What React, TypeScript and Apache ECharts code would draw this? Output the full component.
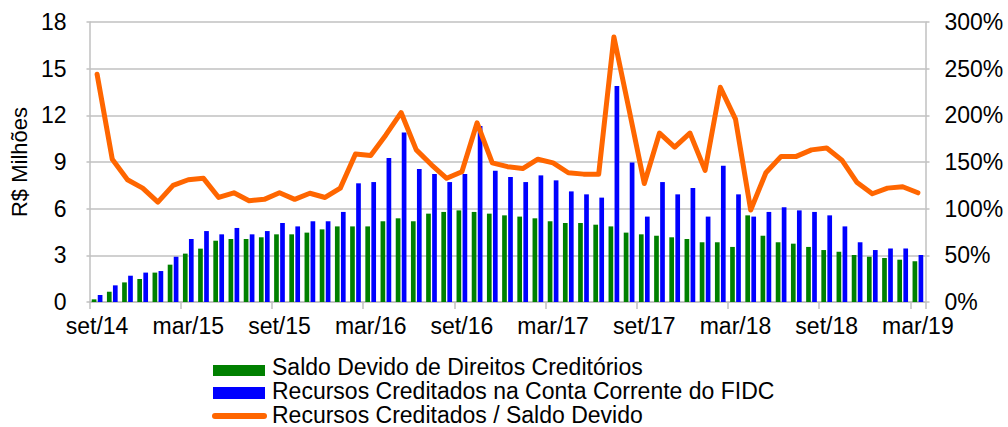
import React, { useEffect, useRef } from "react";
import * as echarts from "echarts";

const categories = [
  "set/14", "out/14", "nov/14", "dez/14", "jan/15", "fev/15", "mar/15", "abr/15", "mai/15", "jun/15", "jul/15", "ago/15",
  "set/15", "out/15", "nov/15", "dez/15", "jan/16", "fev/16", "mar/16", "abr/16", "mai/16", "jun/16", "jul/16", "ago/16",
  "set/16", "out/16", "nov/16", "dez/16", "jan/17", "fev/17", "mar/17", "abr/17", "mai/17", "jun/17", "jul/17", "ago/17",
  "set/17", "out/17", "nov/17", "dez/17", "jan/18", "fev/18", "mar/18", "abr/18", "mai/18", "jun/18", "jul/18", "ago/18",
  "set/18", "out/18", "nov/18", "dez/18", "jan/19", "fev/19", "mar/19",
];

const saldoDevido = [
  0.17, 0.66, 1.26, 1.48, 1.89, 2.4, 3.11, 3.43, 3.94, 4.05, 4.05, 4.16,
  4.35, 4.35, 4.46, 4.67, 4.86, 4.86, 4.86, 5.19, 5.38, 5.19, 5.68, 5.79,
  5.89, 5.79, 5.68, 5.57, 5.49, 5.38, 5.19, 5.08, 5.08, 4.97, 4.86, 4.46,
  4.35, 4.26, 4.16, 4.05, 3.84, 3.84, 3.54, 5.57, 4.26, 3.84, 3.75, 3.54,
  3.34, 3.23, 3.02, 2.91, 2.83, 2.72, 2.62,
];

const recursosCreditados = [
  0.45, 1.07, 1.69, 1.89, 1.99, 2.91, 4.05, 4.56, 4.35, 4.76, 4.35, 4.56,
  5.08, 4.86, 5.19, 5.19, 5.79, 7.63, 7.71, 9.26, 10.89, 8.55, 8.23, 7.71,
  8.23, 11.31, 8.44, 8.04, 7.71, 8.14, 7.82, 7.11, 6.92, 6.71, 13.89, 8.96,
  5.49, 7.71, 6.92, 7.33, 5.49, 8.76, 6.92, 5.49, 5.79, 6.09, 5.89, 5.79,
  5.57, 4.86, 3.84, 3.34, 3.44, 3.44, 3.02,
];

const razaoPct = [
  244, 153, 131, 122, 107, 125, 131, 132.5, 112, 117, 108.5, 110,
  117, 110, 116.5, 112, 122, 158.6, 157, 179, 203, 163, 147, 132.5,
  139.6, 192, 149, 145, 143, 153, 149, 138.5, 137, 137, 284, 206,
  127, 181, 166, 181, 141, 230, 196, 98.6, 138.5, 156, 156, 163,
  165, 152, 128, 116, 122, 123.5, 117,
];

const seriesNames = [
  "Saldo Devido de Direitos Creditórios",
  "Recursos Creditados na Conta Corrente do FIDC",
  "Recursos Creditados / Saldo Devido",
];

const seriesColors = ["#008000", "#0000FF", "#FF6600"];

const FONT = "'Liberation Sans', Arial, sans-serif";
const GRID_COLOR = "#C0C0C0";
const FS = 23;

export default function App() {
  const ref = useRef<HTMLDivElement>(null);

  useEffect(() => {
    if (!ref.current) return;
    const chart = echarts.init(ref.current, undefined, { renderer: "svg" });
    const legendText = (i: number, y: number) => ({
      type: "text",
      x: 272,
      y,
      style: {
        text: seriesNames[i],
        fill: "#000",
        font: `${FS}px ${FONT}`,
        verticalAlign: "middle",
        align: "left",
      },
    });
    chart.setOption({
      animation: false,
      backgroundColor: "#ffffff",
      textStyle: { fontFamily: FONT, color: "#000" },
      grid: { left: 85.5, right: 82.5, top: 22, bottom: 125, containLabel: false },
      graphic: [
        { type: "rect", shape: { x: 213, y: 365, width: 52, height: 11 }, style: { fill: seriesColors[0] } },
        { type: "rect", shape: { x: 213, y: 387, width: 52, height: 12 }, style: { fill: seriesColors[1] } },
        {
          type: "line",
          shape: { x1: 215, y1: 416, x2: 264, y2: 416 },
          style: { stroke: seriesColors[2], lineWidth: 6, lineCap: "round" },
        },
        legendText(0, 367),
        legendText(1, 391),
        legendText(2, 414.5),
      ],
      xAxis: {
        type: "category",
        data: categories,
        boundaryGap: true,
        axisLine: { show: true, lineStyle: { color: GRID_COLOR, width: 1.5 } },
        axisTick: { show: true, interval: 5, length: 7, alignWithLabel: false, lineStyle: { color: GRID_COLOR, width: 1.5 } },
        axisLabel: { interval: 5, fontSize: FS, color: "#000", fontFamily: FONT, margin: 12 },
        splitLine: { show: false },
      },
      yAxis: [
        {
          type: "value",
          min: 0,
          max: 18,
          interval: 3,
          name: "R$ Milhões",
          nameLocation: "middle",
          nameRotate: 90,
          nameGap: 57,
          nameTextStyle: { fontSize: 22, color: "#000", fontFamily: FONT },
          axisLine: { show: true, lineStyle: { color: GRID_COLOR, width: 1.5 } },
          axisTick: { show: true, length: 3, lineStyle: { color: GRID_COLOR, width: 1.5 } },
          axisLabel: { fontSize: FS, color: "#000", fontFamily: FONT, margin: 23 },
          splitLine: { show: true, lineStyle: { color: GRID_COLOR, width: 1.5 } },
        },
        {
          type: "value",
          min: 0,
          max: 300,
          interval: 50,
          position: "right",
          axisLine: { show: true, lineStyle: { color: GRID_COLOR, width: 1.5 } },
          axisTick: { show: true, length: 4, lineStyle: { color: GRID_COLOR, width: 1.5 } },
          axisLabel: { fontSize: FS, color: "#000", fontFamily: FONT, margin: 19, formatter: "{value}%" },
          splitLine: { show: false },
        },
      ],
      series: [
        {
          name: seriesNames[0],
          type: "bar",
          data: saldoDevido,
          barWidth: 4.7,
          barGap: "28%",
          itemStyle: { color: seriesColors[0] },
        },
        {
          name: seriesNames[1],
          type: "bar",
          data: recursosCreditados,
          barWidth: 4.7,
          barGap: "28%",
          itemStyle: { color: seriesColors[1] },
        },
        {
          name: seriesNames[2],
          type: "line",
          yAxisIndex: 1,
          data: razaoPct,
          symbol: "none",
          itemStyle: { color: seriesColors[2] },
          lineStyle: { color: seriesColors[2], width: 5, cap: "round", join: "round" },
        },
      ],
    });
    return () => chart.dispose();
  }, []);

  return (
    <div
      ref={ref}
      style={{ position: "fixed", left: 0, top: 0, width: 1008, height: 427, overflow: "hidden" }}
    />
  );
}
